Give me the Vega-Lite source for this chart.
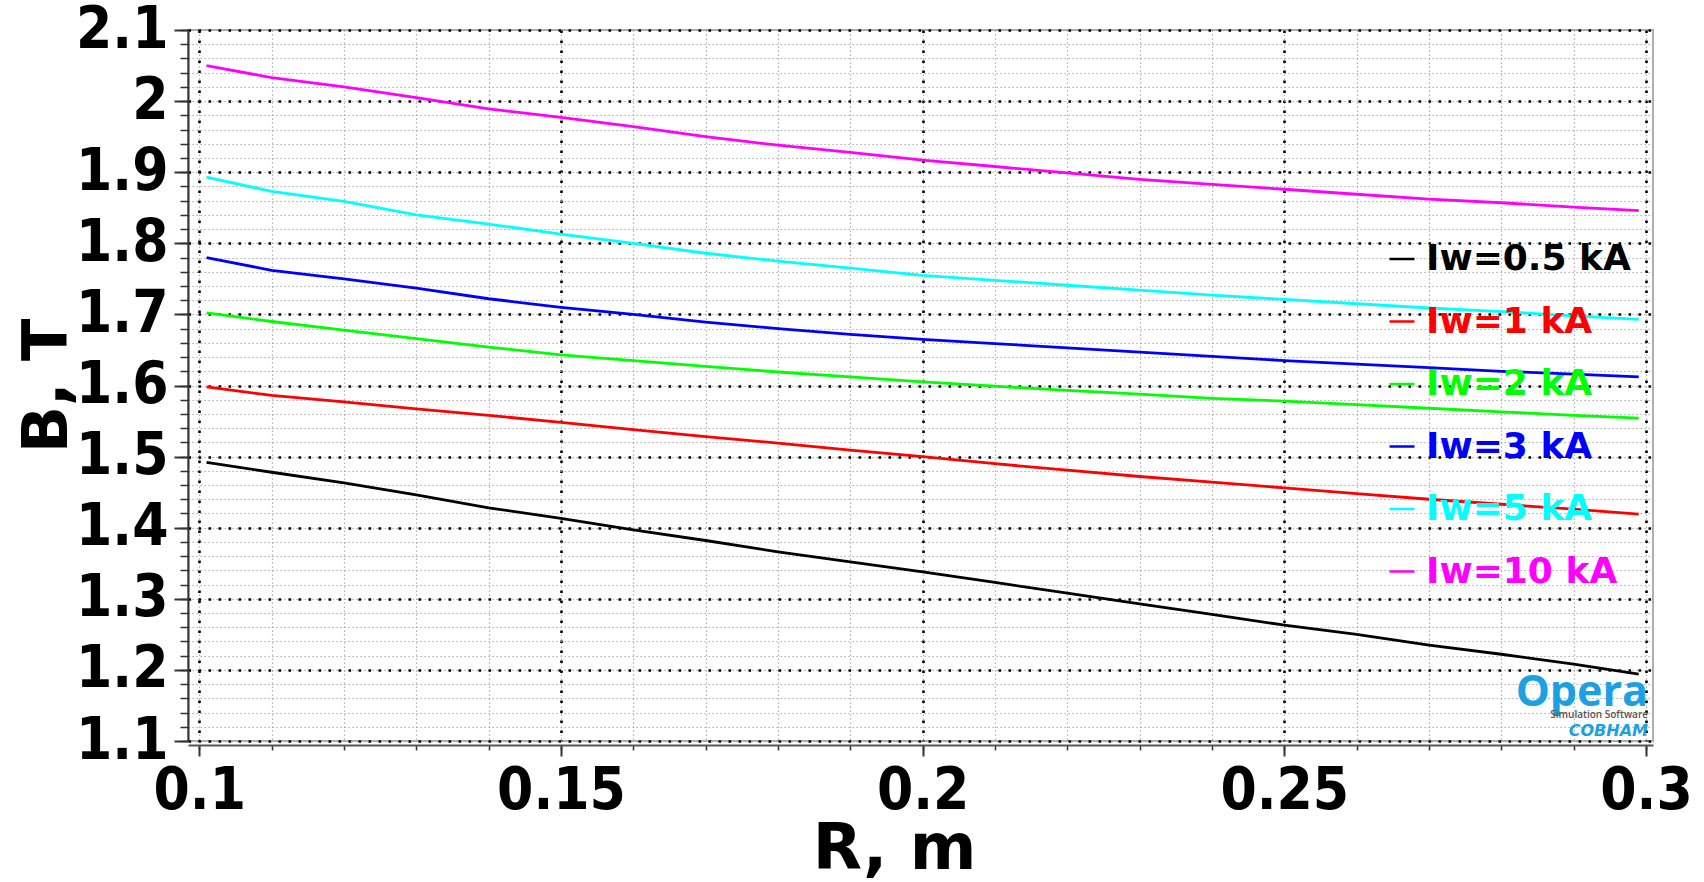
{
  "$schema": "https://vega.github.io/schema/vega-lite/v6.json",
  "autosize": {"type": "none"},
  "padding": {"left": 188, "top": 30, "right": 51, "bottom": 141},
  "width": 1465,
  "height": 711,
  "background": "white",
  "config": {"view": {"stroke": "#b0b0b0", "strokeWidth": 2}, "font": "DejaVu Sans"},
  "data": {"values": [
    {"R": 0.101, "B": 1.492, "series": "Iw=0.5 kA"}, {"R": 0.11, "B": 1.478, "series": "Iw=0.5 kA"}, {"R": 0.12, "B": 1.463, "series": "Iw=0.5 kA"}, {"R": 0.13, "B": 1.446, "series": "Iw=0.5 kA"}, {"R": 0.14, "B": 1.428, "series": "Iw=0.5 kA"}, {"R": 0.15, "B": 1.413, "series": "Iw=0.5 kA"}, {"R": 0.16, "B": 1.397, "series": "Iw=0.5 kA"}, {"R": 0.17, "B": 1.382, "series": "Iw=0.5 kA"}, {"R": 0.18, "B": 1.366, "series": "Iw=0.5 kA"}, {"R": 0.19, "B": 1.352, "series": "Iw=0.5 kA"}, {"R": 0.2, "B": 1.338, "series": "Iw=0.5 kA"}, {"R": 0.21, "B": 1.323, "series": "Iw=0.5 kA"}, {"R": 0.22, "B": 1.308, "series": "Iw=0.5 kA"}, {"R": 0.23, "B": 1.293, "series": "Iw=0.5 kA"}, {"R": 0.24, "B": 1.278, "series": "Iw=0.5 kA"}, {"R": 0.25, "B": 1.263, "series": "Iw=0.5 kA"}, {"R": 0.26, "B": 1.25, "series": "Iw=0.5 kA"}, {"R": 0.27, "B": 1.235, "series": "Iw=0.5 kA"}, {"R": 0.28, "B": 1.222, "series": "Iw=0.5 kA"}, {"R": 0.29, "B": 1.208, "series": "Iw=0.5 kA"}, {"R": 0.299, "B": 1.194, "series": "Iw=0.5 kA"},
    {"R": 0.101, "B": 1.598, "series": "Iw=1 kA"}, {"R": 0.11, "B": 1.586, "series": "Iw=1 kA"}, {"R": 0.12, "B": 1.577, "series": "Iw=1 kA"}, {"R": 0.13, "B": 1.567, "series": "Iw=1 kA"}, {"R": 0.14, "B": 1.558, "series": "Iw=1 kA"}, {"R": 0.15, "B": 1.548, "series": "Iw=1 kA"}, {"R": 0.16, "B": 1.538, "series": "Iw=1 kA"}, {"R": 0.17, "B": 1.528, "series": "Iw=1 kA"}, {"R": 0.18, "B": 1.519, "series": "Iw=1 kA"}, {"R": 0.19, "B": 1.509, "series": "Iw=1 kA"}, {"R": 0.2, "B": 1.5, "series": "Iw=1 kA"}, {"R": 0.21, "B": 1.49, "series": "Iw=1 kA"}, {"R": 0.22, "B": 1.481, "series": "Iw=1 kA"}, {"R": 0.23, "B": 1.472, "series": "Iw=1 kA"}, {"R": 0.24, "B": 1.464, "series": "Iw=1 kA"}, {"R": 0.25, "B": 1.456, "series": "Iw=1 kA"}, {"R": 0.26, "B": 1.448, "series": "Iw=1 kA"}, {"R": 0.27, "B": 1.44, "series": "Iw=1 kA"}, {"R": 0.28, "B": 1.433, "series": "Iw=1 kA"}, {"R": 0.29, "B": 1.426, "series": "Iw=1 kA"}, {"R": 0.299, "B": 1.419, "series": "Iw=1 kA"},
    {"R": 0.101, "B": 1.702, "series": "Iw=2 kA"}, {"R": 0.11, "B": 1.69, "series": "Iw=2 kA"}, {"R": 0.12, "B": 1.678, "series": "Iw=2 kA"}, {"R": 0.13, "B": 1.666, "series": "Iw=2 kA"}, {"R": 0.14, "B": 1.654, "series": "Iw=2 kA"}, {"R": 0.15, "B": 1.643, "series": "Iw=2 kA"}, {"R": 0.16, "B": 1.635, "series": "Iw=2 kA"}, {"R": 0.17, "B": 1.627, "series": "Iw=2 kA"}, {"R": 0.18, "B": 1.619, "series": "Iw=2 kA"}, {"R": 0.19, "B": 1.612, "series": "Iw=2 kA"}, {"R": 0.2, "B": 1.605, "series": "Iw=2 kA"}, {"R": 0.21, "B": 1.599, "series": "Iw=2 kA"}, {"R": 0.22, "B": 1.593, "series": "Iw=2 kA"}, {"R": 0.23, "B": 1.588, "series": "Iw=2 kA"}, {"R": 0.24, "B": 1.582, "series": "Iw=2 kA"}, {"R": 0.25, "B": 1.578, "series": "Iw=2 kA"}, {"R": 0.26, "B": 1.573, "series": "Iw=2 kA"}, {"R": 0.27, "B": 1.568, "series": "Iw=2 kA"}, {"R": 0.28, "B": 1.563, "series": "Iw=2 kA"}, {"R": 0.29, "B": 1.558, "series": "Iw=2 kA"}, {"R": 0.299, "B": 1.554, "series": "Iw=2 kA"},
    {"R": 0.101, "B": 1.78, "series": "Iw=3 kA"}, {"R": 0.11, "B": 1.762, "series": "Iw=3 kA"}, {"R": 0.12, "B": 1.75, "series": "Iw=3 kA"}, {"R": 0.13, "B": 1.737, "series": "Iw=3 kA"}, {"R": 0.14, "B": 1.722, "series": "Iw=3 kA"}, {"R": 0.15, "B": 1.71, "series": "Iw=3 kA"}, {"R": 0.16, "B": 1.7, "series": "Iw=3 kA"}, {"R": 0.17, "B": 1.689, "series": "Iw=3 kA"}, {"R": 0.18, "B": 1.68, "series": "Iw=3 kA"}, {"R": 0.19, "B": 1.672, "series": "Iw=3 kA"}, {"R": 0.2, "B": 1.665, "series": "Iw=3 kA"}, {"R": 0.21, "B": 1.659, "series": "Iw=3 kA"}, {"R": 0.22, "B": 1.653, "series": "Iw=3 kA"}, {"R": 0.23, "B": 1.647, "series": "Iw=3 kA"}, {"R": 0.24, "B": 1.641, "series": "Iw=3 kA"}, {"R": 0.25, "B": 1.635, "series": "Iw=3 kA"}, {"R": 0.26, "B": 1.63, "series": "Iw=3 kA"}, {"R": 0.27, "B": 1.625, "series": "Iw=3 kA"}, {"R": 0.28, "B": 1.62, "series": "Iw=3 kA"}, {"R": 0.29, "B": 1.616, "series": "Iw=3 kA"}, {"R": 0.299, "B": 1.612, "series": "Iw=3 kA"},
    {"R": 0.101, "B": 1.893, "series": "Iw=5 kA"}, {"R": 0.11, "B": 1.873, "series": "Iw=5 kA"}, {"R": 0.12, "B": 1.859, "series": "Iw=5 kA"}, {"R": 0.13, "B": 1.84, "series": "Iw=5 kA"}, {"R": 0.14, "B": 1.827, "series": "Iw=5 kA"}, {"R": 0.15, "B": 1.813, "series": "Iw=5 kA"}, {"R": 0.16, "B": 1.8, "series": "Iw=5 kA"}, {"R": 0.17, "B": 1.786, "series": "Iw=5 kA"}, {"R": 0.18, "B": 1.775, "series": "Iw=5 kA"}, {"R": 0.19, "B": 1.765, "series": "Iw=5 kA"}, {"R": 0.2, "B": 1.755, "series": "Iw=5 kA"}, {"R": 0.21, "B": 1.748, "series": "Iw=5 kA"}, {"R": 0.22, "B": 1.741, "series": "Iw=5 kA"}, {"R": 0.23, "B": 1.734, "series": "Iw=5 kA"}, {"R": 0.24, "B": 1.727, "series": "Iw=5 kA"}, {"R": 0.25, "B": 1.721, "series": "Iw=5 kA"}, {"R": 0.26, "B": 1.715, "series": "Iw=5 kA"}, {"R": 0.27, "B": 1.709, "series": "Iw=5 kA"}, {"R": 0.28, "B": 1.704, "series": "Iw=5 kA"}, {"R": 0.29, "B": 1.698, "series": "Iw=5 kA"}, {"R": 0.299, "B": 1.693, "series": "Iw=5 kA"},
    {"R": 0.101, "B": 2.05, "series": "Iw=10 kA"}, {"R": 0.11, "B": 2.033, "series": "Iw=10 kA"}, {"R": 0.12, "B": 2.02, "series": "Iw=10 kA"}, {"R": 0.13, "B": 2.005, "series": "Iw=10 kA"}, {"R": 0.14, "B": 1.989, "series": "Iw=10 kA"}, {"R": 0.15, "B": 1.977, "series": "Iw=10 kA"}, {"R": 0.16, "B": 1.964, "series": "Iw=10 kA"}, {"R": 0.17, "B": 1.95, "series": "Iw=10 kA"}, {"R": 0.18, "B": 1.938, "series": "Iw=10 kA"}, {"R": 0.19, "B": 1.928, "series": "Iw=10 kA"}, {"R": 0.2, "B": 1.917, "series": "Iw=10 kA"}, {"R": 0.21, "B": 1.908, "series": "Iw=10 kA"}, {"R": 0.22, "B": 1.899, "series": "Iw=10 kA"}, {"R": 0.23, "B": 1.89, "series": "Iw=10 kA"}, {"R": 0.24, "B": 1.883, "series": "Iw=10 kA"}, {"R": 0.25, "B": 1.876, "series": "Iw=10 kA"}, {"R": 0.26, "B": 1.869, "series": "Iw=10 kA"}, {"R": 0.27, "B": 1.862, "series": "Iw=10 kA"}, {"R": 0.28, "B": 1.857, "series": "Iw=10 kA"}, {"R": 0.29, "B": 1.851, "series": "Iw=10 kA"}, {"R": 0.299, "B": 1.846, "series": "Iw=10 kA"}
  ]},
  "resolve": {"axis": {"x": "independent", "y": "independent"}},
  "layer": [
    {
      "mark": {"type": "line", "opacity": 0},
      "encoding": {
        "x": {"field": "R", "type": "quantitative",
          "scale": {"domain": [0.09844, 0.30097], "nice": false, "zero": false},
          "axis": {"orient": "bottom", "values": [0.1, 0.11, 0.12, 0.13, 0.14, 0.15, 0.16, 0.17, 0.18, 0.19, 0.2, 0.21, 0.22, 0.23, 0.24, 0.25, 0.26, 0.27, 0.28, 0.29, 0.3],
            "labels": false, "domain": false, "title": null, "tickSize": 5, "tickColor": "#333", "tickWidth": 1.5, "offset": 4,
            "grid": true, "gridColor": "#a0a0a0", "gridDash": [1.3, 2.7], "gridWidth": 1.2}},
        "y": {"field": "B", "type": "quantitative",
          "scale": {"domain": [1.1, 2.1], "nice": false, "zero": false},
          "axis": {"orient": "left", "values": [1.1, 1.12, 1.14, 1.16, 1.18, 1.2, 1.22, 1.24, 1.26, 1.28, 1.3, 1.32, 1.34, 1.36, 1.38, 1.4, 1.42, 1.44, 1.46, 1.48, 1.5, 1.52, 1.54, 1.56, 1.58, 1.6, 1.62, 1.64, 1.66, 1.68, 1.7, 1.72, 1.74, 1.76, 1.78, 1.8, 1.82, 1.84, 1.86, 1.88, 1.9, 1.92, 1.94, 1.96, 1.98, 2.0, 2.02, 2.04, 2.06, 2.08, 2.1],
            "labels": false, "domain": false, "title": null, "tickSize": 8, "tickColor": "#333", "tickWidth": 1.5,
            "grid": true, "gridColor": "#a0a0a0", "gridDash": [1.3, 2.7], "gridWidth": 1.2}},
        "detail": {"field": "series"}
      }
    },
    {
      "mark": {"type": "line", "strokeWidth": 2.8},
      "encoding": {
        "x": {"field": "R", "type": "quantitative",
          "scale": {"domain": [0.09844, 0.30097], "nice": false, "zero": false},
          "axis": {"orient": "bottom", "values": [0.1, 0.15, 0.2, 0.25, 0.3], "format": "~g",
            "grid": true, "gridColor": "#000", "gridDash": [2.6, 7.4], "gridWidth": 2.6,
            "tickSize": 11, "tickWidth": 2, "tickColor": "#333", "domainColor": "#555", "domainWidth": 2, "offset": 4,
            "labelFont": "DejaVu Sans Condensed, DejaVu Sans", "labelFontSize": 58, "labelFontWeight": "bold", "labelColor": "#000",
            "labelPadding": 6, "labelOverlap": false, "labelFlush": false,
            "title": "R, m", "titleFont": "DejaVu Sans", "titleFontSize": 64, "titleFontWeight": "bold", "titleColor": "#000", "titlePadding": -3, "titleX": 706}},
        "y": {"field": "B", "type": "quantitative",
          "scale": {"domain": [1.1, 2.1], "nice": false, "zero": false},
          "axis": {"orient": "left", "values": [1.1, 1.2, 1.3, 1.4, 1.5, 1.6, 1.7, 1.8, 1.9, 2.0, 2.1], "format": "~g",
            "grid": true, "gridColor": "#000", "gridDash": [2.6, 7.4], "gridWidth": 2.6,
            "tickSize": 14, "tickWidth": 2, "tickColor": "#333", "domainColor": "#333", "domainWidth": 2,
            "labelFont": "DejaVu Sans Condensed, DejaVu Sans", "labelFontSize": 58, "labelFontWeight": "bold", "labelColor": "#000",
            "labelPadding": 6, "labelOverlap": false, "labelFlush": false,
            "title": "B, T", "titleFont": "DejaVu Sans", "titleFontSize": 62, "titleFontWeight": "bold", "titleColor": "#000", "titlePadding": -4}},
        "color": {"field": "series", "type": "nominal",
          "scale": {"domain": ["Iw=0.5 kA", "Iw=1 kA", "Iw=2 kA", "Iw=3 kA", "Iw=5 kA", "Iw=10 kA"],
                    "range": ["#000000", "#ff0000", "#00ff00", "#0000ff", "#00ffff", "#ff00ff"]},
          "legend": {"title": null, "orient": "none", "legendX": 1196, "legendY": 211, "padding": 0,
            "symbolType": "stroke", "symbolSize": 625, "symbolStrokeWidth": 2.5,
            "labelFont": "DejaVu Sans", "labelFontSize": 36, "labelFontWeight": "bold", "labelLimit": 400,
            "labelColor": {"expr": "scale('color', datum.value)"},
            "labelOffset": 6, "rowPadding": 26.5}}
      }
    },
    {
      "data": {"values": [{"label": "Opera"}]},
      "mark": {"type": "text", "align": "right", "baseline": "alphabetic", "dx": 2, "dy": -35, "font": "Open Sans", "fontSize": 43, "fontWeight": "bold", "color": "#1ba1e2"},
      "encoding": {"x": {"datum": 0.3, "type": "quantitative", "axis": null}, "y": {"datum": 1.1, "type": "quantitative", "axis": null}, "text": {"field": "label"}}
    },
    {
      "data": {"values": [{"label": "Simulation Software"}]},
      "mark": {"type": "text", "align": "right", "baseline": "alphabetic", "dx": 2, "dy": -23, "font": "Open Sans", "fontSize": 10, "fontWeight": 600, "color": "#555"},
      "encoding": {"x": {"datum": 0.3, "type": "quantitative", "axis": null}, "y": {"datum": 1.1, "type": "quantitative", "axis": null}, "text": {"field": "label"}}
    },
    {
      "data": {"values": [{"label": "COBHAM"}]},
      "mark": {"type": "text", "align": "right", "baseline": "alphabetic", "dx": 2, "dy": -5, "font": "DejaVu Sans", "fontSize": 16, "fontWeight": "bold", "fontStyle": "italic", "color": "#1ba1e2"},
      "encoding": {"x": {"datum": 0.3, "type": "quantitative", "axis": null}, "y": {"datum": 1.1, "type": "quantitative", "axis": null}, "text": {"field": "label"}}
    }
  ]
}
